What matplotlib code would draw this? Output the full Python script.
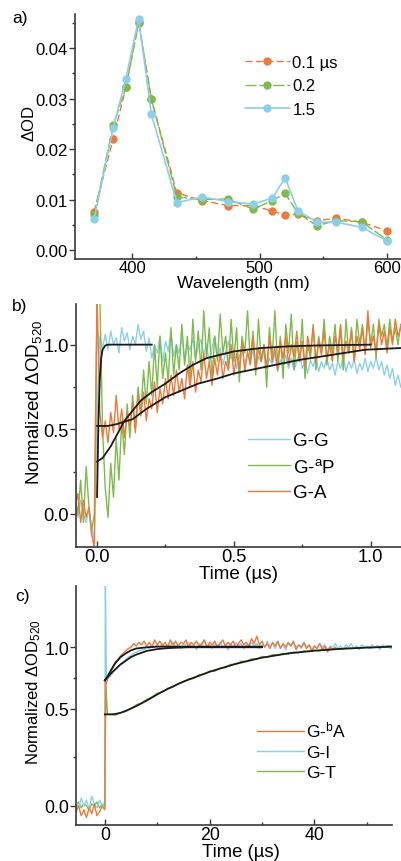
import numpy as np
import matplotlib
matplotlib.use("Agg")
import matplotlib.pyplot as plt
from matplotlib.ticker import FixedLocator, FormatStrFormatter

plt.rcParams['font.family'] = ['Liberation Sans', 'DejaVu Sans']
plt.rcParams['mathtext.fontset'] = 'custom'
plt.rcParams['mathtext.rm'] = 'Liberation Sans'
plt.rcParams['mathtext.it'] = 'Liberation Sans:italic'

# ---------------- panel a data ----------------
wavelength = [370, 385, 395, 405, 415, 435, 455, 475, 495, 510, 520, 530, 545, 560, 580, 600]
od_01 = [0.0075, 0.0220, 0.0323, 0.0452, 0.0299, 0.0113, 0.0098, 0.0088, 0.0088, 0.0077,
         0.0069, 0.0071, 0.0058, 0.0063, 0.0055, 0.0038]
od_02 = [0.0069, 0.0247, 0.0323, 0.0450, 0.0299, 0.0105, 0.0100, 0.0101, 0.0081, 0.0098,
         0.0112, 0.0073, 0.0048, 0.0058, 0.0056, 0.0020]
od_15 = [0.0061, 0.0242, 0.0340, 0.0459, 0.0269, 0.0094, 0.0105, 0.0096, 0.0091, 0.0103,
         0.0143, 0.0078, 0.0055, 0.0055, 0.0045, 0.0018]
labels_a = ['0.1 µs', '0.2', '1.5']

# ---------------- panel b data (time in µs, step 0.01 from -0.08) ----------------
b_t0, b_dt = -0.08, 0.01
gg_b = [0.05, -0.02, 0.08, 0.0, -0.05, 0.03, -0.08, -0.15,
        0.6, 1.05, 0.98, 1.06, 0.97, 1.08, 1.0, 1.04, 0.95, 1.1, 1.02, 1.07, 0.97, 1.05, 1.0, 1.12,
        1.03, 1.08, 0.96, 1.04, 0.92, 1.0, 0.95, 1.05, 0.9, 1.02, 0.96, 1.08, 0.93, 1.0, 0.95, 1.06,
        0.9, 1.0, 0.97, 1.04, 0.92, 0.99, 1.03, 0.94, 1.0, 0.9, 0.98, 1.05, 0.93, 0.98, 0.88, 0.95,
        1.02, 0.92, 0.96, 0.86, 0.93, 0.98, 0.88, 0.95, 0.9, 0.97, 0.85, 0.93, 0.9, 0.96, 0.86, 0.92,
        0.88, 0.95, 0.84, 0.91, 0.87, 0.94, 0.86, 0.92, 0.85, 0.9, 0.95, 0.86, 0.9, 0.83, 0.91, 0.87,
        0.93, 0.84, 0.9, 0.86, 0.92, 0.85, 0.89, 0.82, 0.9, 0.86, 0.93, 0.84, 0.9, 0.86, 0.91, 0.83,
        0.89, 0.85, 0.92, 0.84, 0.9, 0.86, 0.93, 0.85, 0.9, 0.82, 0.88, 0.8, 0.86, 0.76, 0.82, 0.75]
gap_b = [0.1, 0.0, 0.2, -0.05, 0.28, 0.05, -0.1, 0.0,
         1.3, 1.3, 0.5, 0.15, -0.02, 0.3, 0.1, 0.45, 0.2, 0.55, 0.35, 0.65, 0.45, 0.7, 0.5, 0.75,
         0.6, 0.85, 0.65, 0.9, 0.7, 1.0, 0.75, 1.05, 0.8, 0.95, 0.78, 1.1, 0.82, 1.0, 0.85, 1.12,
         0.88, 1.05, 0.8, 1.15, 0.9, 1.08, 0.85, 1.2, 0.92, 1.1, 0.8, 1.05, 0.9, 1.18, 0.95, 1.05,
         0.85, 1.15, 0.9, 1.1, 0.78, 1.05, 0.95, 1.2, 0.9, 1.08, 0.82, 1.15, 0.9, 1.0, 0.75, 1.1,
         0.92, 1.2, 0.88, 1.05, 0.8, 1.12, 0.95, 1.18, 0.85, 1.02, 0.9, 1.15, 0.8, 1.0, 0.92, 1.12,
         0.85, 1.05, 0.95, 1.15, 0.88, 1.05, 0.95, 1.12, 0.9, 1.1, 0.85, 1.15, 0.95, 1.1, 0.9, 1.15,
         1.0, 1.12, 0.95, 1.15, 1.0, 1.12, 0.92, 1.15, 1.05, 1.12, 0.98, 1.15, 1.02, 1.1, 1.0, 1.12]
ga_b = [0.05, 0.12, -0.05, 0.08, -0.02, 0.04, -0.12, -0.2,
        1.3, 0.6, 0.45, 0.55, 0.42, 0.6, 0.48, 0.7, 0.5, 0.62, 0.45, 0.6, 0.52, 0.66, 0.48, 0.7,
        0.58, 0.72, 0.55, 0.68, 0.62, 0.78, 0.6, 0.74, 0.65, 0.8, 0.68, 0.82, 0.7, 0.85, 0.72, 0.8,
        0.68, 0.88, 0.75, 0.9, 0.72, 0.85, 0.78, 0.95, 0.8, 0.9, 0.76, 0.92, 0.82, 0.95, 0.8, 0.9,
        0.85, 1.0, 0.82, 0.95, 0.86, 1.02, 0.84, 0.96, 0.88, 1.05, 0.85, 0.98, 0.9, 1.0, 0.86, 1.05,
        0.9, 0.98, 0.85, 1.02, 0.92, 1.05, 0.88, 1.0, 0.93, 1.08, 0.9, 1.02, 0.87, 1.05, 0.95, 1.1,
        0.9, 1.02, 0.94, 1.08, 0.92, 1.0, 0.9, 1.05, 0.96, 1.12, 0.92, 1.02, 0.95, 1.08, 0.9, 1.05,
        0.97, 1.1, 0.94, 1.2, 0.98, 1.05, 0.95, 1.12, 1.0, 1.08, 0.95, 1.1, 1.0, 1.15, 1.05, 1.1]
labels_b = ['G-G', 'G-$^{\\mathrm{a}}$P', 'G-A']

# fits, panel b
fit_gg_t = [0.0, 0.005, 0.01, 0.015, 0.02, 0.03, 0.04, 0.2]
fit_gg_v = [0.1, 0.55, 0.8, 0.92, 0.97, 0.995, 1.0, 1.0]
fit_gap_t = [0.0, 0.02, 0.05, 0.08, 0.1, 0.13, 0.16, 0.2, 0.25, 0.3, 0.35, 0.4, 0.5, 0.6, 0.7, 0.8, 1.0]
fit_gap_v = [0.31, 0.33, 0.4, 0.49, 0.55, 0.61, 0.67, 0.72, 0.77, 0.83, 0.88, 0.92, 0.96, 0.98, 0.99, 0.995, 1.0]
fit_ga_t = [0.0, 0.04, 0.07, 0.1, 0.13, 0.18, 0.25, 0.31, 0.37, 0.44, 0.5, 0.62, 0.74, 0.86, 0.98, 1.11]
fit_ga_v = [0.52, 0.52, 0.53, 0.545, 0.56, 0.62, 0.69, 0.73, 0.77, 0.8, 0.83, 0.87, 0.91, 0.94, 0.97, 0.98]

# ---------------- panel c data (time in µs) ----------------
c_pre_t0, c_pre_dt = -5.5, 0.5
gba_pre = [-0.03, 0.0, -0.05, -0.02, -0.06, -0.01, -0.04, 0.01, -0.05, -0.03, 0.0, -0.02]
gi_pre = [0.02, -0.01, 0.04, 0.0, 0.03, -0.02, 0.05, 0.01, -0.01, 0.03, 0.0, 0.02]
gt_pre = [0.0, 0.02, -0.01, 0.01, 0.0, -0.02, 0.01, 0.0, 0.02, -0.01, 0.01, 0.0]
c_post_t0, c_post_dt = 0.5, 0.5
gba_post = [0.74, 0.78, 0.84, 0.88, 0.9, 0.93, 0.95, 0.97, 0.99, 1.0,
            1.03, 1.01, 1.04, 1.02, 1.05, 1.01, 1.04, 1.0, 1.06, 1.02,
            1.05, 1.01, 1.04, 1.0, 1.06, 1.02, 1.05, 1.01, 1.04, 1.03,
            1.06, 1.0, 1.04, 1.02, 1.05, 1.01, 1.03, 1.06, 1.0, 1.04,
            1.02, 1.05, 1.0, 1.03, 1.06, 1.01, 1.04, 1.02, 1.05, 1.0,
            1.03, 1.06, 1.02, 1.04, 1.01, 1.07, 1.03, 1.09, 1.02, 1.05,
            1.0, 1.03, 0.99, 1.04, 1.01, 1.05, 0.99, 1.03, 1.0, 1.04,
            1.01, 1.05, 0.98, 1.02, 1.0, 1.04, 0.99, 1.02, 0.97, 1.01,
            0.99, 1.03, 0.98, 1.01, 0.96, 1.0, 0.98, 1.0]
gi_post = [0.74, 0.76, 0.79, 0.82, 0.84, 0.86, 0.88, 0.9, 0.92, 0.93,
           0.95, 0.96, 0.97, 0.98, 0.98, 1.0, 0.99, 1.01, 1.0, 1.02,
           1.0, 1.03, 0.99, 1.02, 1.01, 1.04, 1.0, 1.02, 0.99, 1.03,
           1.01, 1.04, 1.0, 1.02, 0.98, 1.03, 1.01, 1.05, 1.0, 1.02,
           0.99, 1.03, 1.01, 1.04, 1.0, 1.02, 0.98, 1.03, 1.0, 1.04,
           1.01, 1.03, 0.99, 1.02, 1.0, 1.04, 1.01, 1.03, 0.99, 1.02,
           1.0, 1.05, 1.01, 1.03, 0.99, 1.04, 1.0, 1.02, 0.98, 1.03,
           1.01, 1.04, 1.0, 1.02, 0.99, 1.03, 1.0, 1.02, 0.98, 1.01,
           0.99, 1.03, 1.0, 1.02, 0.98, 1.01, 1.0, 1.03, 0.99, 1.01,
           0.98, 1.02, 1.0, 1.03, 0.99, 1.01, 0.98, 1.02, 1.0, 1.01,
           0.99, 1.02, 1.0, 1.01, 0.98, 1.02, 1.0, 1.01, 0.99, 1.0]
gt_post_t0, gt_post_dt = 1.0, 1.0
gt_post = [0.47, 0.465, 0.478, 0.485, 0.5, 0.53, 0.545, 0.575, 0.595, 0.625,
           0.635, 0.665, 0.675, 0.705, 0.715, 0.74, 0.745, 0.775, 0.78, 0.805,
           0.805, 0.83, 0.835, 0.86, 0.86, 0.885, 0.885, 0.905, 0.905, 0.925,
           0.92, 0.94, 0.935, 0.95, 0.945, 0.96, 0.955, 0.97, 0.965, 0.975,
           0.97, 0.985, 0.98, 0.99, 0.985, 0.995, 0.99, 1.0, 0.995, 1.005,
           0.995, 1.01, 1.0, 1.015, 1.005]
# spikes right after excitation
gi_spike_t, gi_spike_v = [0.0, 0.1, 0.3], [0.0, 1.6, 0.73]
gba_spike_t, gba_spike_v = [0.0, 0.1, 0.3], [-0.02, 0.72, 0.7]
gt_spike_t, gt_spike_v = [0.0, 0.2, 0.5], [0.0, 0.70, 0.47]
labels_c = ['G-$^{\\mathrm{b}}$A', 'G-I', 'G-T']

fit_gba_t = [0.0, 0.5, 1, 2, 3, 4, 5, 6, 8, 10, 12, 15, 30]
fit_gba_v = [0.73, 0.76, 0.8, 0.87, 0.92, 0.95, 0.975, 0.99, 1.0, 1.005, 1.005, 1.005, 1.005]
fit_gi_t = [0.0, 1, 2, 3, 4, 5, 6, 7, 8, 10, 12, 14, 16, 20, 30]
fit_gi_v = [0.73, 0.78, 0.82, 0.86, 0.89, 0.92, 0.94, 0.955, 0.97, 0.985, 0.993, 0.997, 1.0, 1.0, 1.0]
fit_gt_t = [0.0, 1, 2, 3, 4, 5, 6, 8, 10, 12, 15, 20, 25, 30, 35, 40, 45, 50, 55]
fit_gt_v = [0.47, 0.47, 0.472, 0.478, 0.488, 0.5, 0.52, 0.565, 0.615, 0.66, 0.72, 0.80, 0.865,
            0.915, 0.95, 0.972, 0.987, 0.997, 1.005]

# ---------------- styling ----------------
C_OR = '#ec7a3a'
C_GR = '#7dbb4c'
C_BL = '#8dcfe9'
SPINE = '#3a3a3a'

fig = plt.figure(figsize=(4.01, 8.62), dpi=100)
W, H = 401.0, 862.0


def add_ax(l, r, t, b):
    return fig.add_axes([l / W, 1 - b / H, (r - l) / W, (b - t) / H])


def style(ax, fs):
    for s in ['top', 'right']:
        ax.spines[s].set_visible(False)
    for s in ['left', 'bottom']:
        ax.spines[s].set_color(SPINE)
        ax.spines[s].set_linewidth(1.2)
    ax.tick_params(axis='y', which='both', direction='out', color=SPINE, labelsize=fs, pad=1.0)
    ax.tick_params(axis='x', which='both', direction='in', color=SPINE, labelsize=fs, pad=1.0)
    ax.tick_params(which='major', length=4, width=1.0)
    ax.tick_params(which='minor', length=2.5, width=1.0)


# ---------- panel a ----------
ax1 = add_ax(75, 401, 15, 260)
style(ax1, 12)
ax1.plot(wavelength, od_01, color=C_OR, lw=1.0, ls=(0, (5, 2.5)), marker='o', ms=5, label=labels_a[0])
ax1.plot(wavelength, od_02, color=C_GR, lw=1.0, ls=(0, (8, 2)), marker='o', ms=5, label=labels_a[1])
ax1.plot(wavelength, od_15, color=C_BL, lw=1.2, marker='o', ms=5, label=labels_a[2])
ax1.set_xlim(355, 611)
ax1.set_ylim(-0.0018, 0.0468)
ax1.xaxis.set_major_locator(FixedLocator([400, 500, 600]))
ax1.xaxis.set_minor_locator(FixedLocator([450, 550]))
ax1.yaxis.set_major_locator(FixedLocator([0.0, 0.01, 0.02, 0.03, 0.04]))
ax1.yaxis.set_minor_locator(FixedLocator([0.005, 0.015, 0.025, 0.035, 0.045]))
ax1.yaxis.set_major_formatter(FormatStrFormatter('%.2f'))
ax1.set_xlabel('Wavelength (nm)', fontsize=12.6)
ax1.set_ylabel('ΔOD', fontsize=12)
ax1.xaxis.set_label_coords(0.515, -0.064)
ax1.yaxis.set_label_coords(-0.118, 0.56)
ax1.legend(loc='upper left', bbox_to_anchor=(0.521, 0.832), frameon=False, fontsize=12,
           handlelength=2.7, handletextpad=0.15, labelspacing=0.5, borderaxespad=0, borderpad=0)

# ---------- panel b ----------
ax2 = add_ax(76, 401, 305, 548)
style(ax2, 13.2)
tb = b_t0 + b_dt * np.arange(len(gg_b))
ax2.plot(tb, gg_b, color=C_BL, lw=1.0, label=labels_b[0])
ax2.plot(tb, gap_b, color=C_GR, lw=1.0, label=labels_b[1])
ax2.plot(tb, ga_b, color=C_OR, lw=1.0, label=labels_b[2])
ax2.plot(fit_gg_t, fit_gg_v, color='#1a1a1a', lw=1.3)
ax2.plot(fit_gap_t, fit_gap_v, color='#1a1a1a', lw=1.3)
ax2.plot(fit_ga_t, fit_ga_v, color='#1a1a1a', lw=1.3)
ax2.set_xlim(-0.077, 1.111)
ax2.set_ylim(-0.195, 1.24)
ax2.xaxis.set_major_locator(FixedLocator([0.0, 0.5, 1.0]))
ax2.xaxis.set_minor_locator(FixedLocator([0.25, 0.75]))
ax2.yaxis.set_major_locator(FixedLocator([0.0, 0.5, 1.0]))
ax2.yaxis.set_minor_locator(FixedLocator([0.25, 0.75]))
ax2.xaxis.set_major_formatter(FormatStrFormatter('%.1f'))
ax2.yaxis.set_major_formatter(FormatStrFormatter('%.1f'))
ax2.set_xlabel('Time (µs)', fontsize=13.6)
ax2.set_ylabel('Normalized ΔOD$_{520}$', fontsize=13.6)
ax2.xaxis.set_label_coords(0.5, -0.075)
ax2.yaxis.set_label_coords(-0.099, 0.598)
ax2.legend(loc='upper left', bbox_to_anchor=(0.529, 0.473), frameon=False, fontsize=13.5,
           handlelength=2.25, handletextpad=0.15, labelspacing=0.45, borderaxespad=0, borderpad=0)

# ---------- panel c ----------
K = 0.629


def fwd(y):
    y = np.asarray(y, dtype=float)
    return np.where(y <= 0.5, y, 0.5 + (y - 0.5) * K)


def inv(u):
    u = np.asarray(u, dtype=float)
    return np.where(u <= 0.5, u, 0.5 + (u - 0.5) / K)


ax3 = add_ax(76, 392, 587, 826)
style(ax3, 12.8)
ax3.set_yscale('function', functions=(fwd, inv))
pre_t = c_pre_t0 + c_pre_dt * np.arange(len(gba_pre))


def trace(pre_v, spike_t, spike_v, post_t0, post_dt, post_v):
    t = np.concatenate([pre_t, spike_t, post_t0 + post_dt * np.arange(len(post_v))])
    v = np.concatenate([pre_v, spike_v, post_v])
    return t, v


t_gt, v_gt = trace(gt_pre, gt_spike_t, gt_spike_v, gt_post_t0, gt_post_dt, gt_post)
t_gi, v_gi = trace(gi_pre, gi_spike_t, gi_spike_v, c_post_t0, c_post_dt, gi_post)
t_gba, v_gba = trace(gba_pre, gba_spike_t, gba_spike_v, c_post_t0, c_post_dt, gba_post)
l_gt, = ax3.plot(t_gt, v_gt, color=C_GR, lw=1.0)
l_gi, = ax3.plot(t_gi, v_gi, color=C_BL, lw=1.0)
l_gba, = ax3.plot(t_gba, v_gba, color=C_OR, lw=1.0)
ax3.plot(fit_gi_t, fit_gi_v, color='#1a1a1a', lw=1.3)
ax3.plot(fit_gba_t, fit_gba_v, color='#1a1a1a', lw=1.3)
ax3.plot(fit_gt_t, fit_gt_v, color='#1a1a1a', lw=1.3)
ax3.set_xlim(-5.5, 54.8)
ax3.set_ylim(-0.098, 1.5)
ax3.xaxis.set_major_locator(FixedLocator([0, 20, 40]))
ax3.xaxis.set_minor_locator(FixedLocator([10, 30, 50]))
ax3.yaxis.set_major_locator(FixedLocator([0.0, 0.5, 1.0]))
ax3.yaxis.set_minor_locator(FixedLocator([0.25, 0.75]))
ax3.yaxis.set_major_formatter(FormatStrFormatter('%.1f'))
ax3.yaxis.set_minor_formatter(plt.NullFormatter())
ax3.set_xlabel('Time (µs)', fontsize=13.3)
ax3.set_ylabel('Normalized ΔOD$_{520}$', fontsize=12)
ax3.xaxis.set_label_coords(0.522, -0.077)
ax3.yaxis.set_label_coords(-0.103, 0.56)
ax3.legend([l_gba, l_gi, l_gt], labels_c, loc='upper left', bbox_to_anchor=(0.573, 0.44),
           frameon=False, fontsize=12.5, handlelength=2.7, handletextpad=0.1, labelspacing=0.3,
           borderaxespad=0, borderpad=0)

# panel letters
fig.text(20 / W, 1 - 18 / H, 'a)', fontsize=12.5, ha='center', va='center')
fig.text(20 / W, 1 - 307 / H, 'b)', fontsize=12.5, ha='center', va='center')
fig.text(22 / W, 1 - 597 / H, 'c)', fontsize=12.5, ha='center', va='center')

fig.savefig('out.png', dpi=100)
